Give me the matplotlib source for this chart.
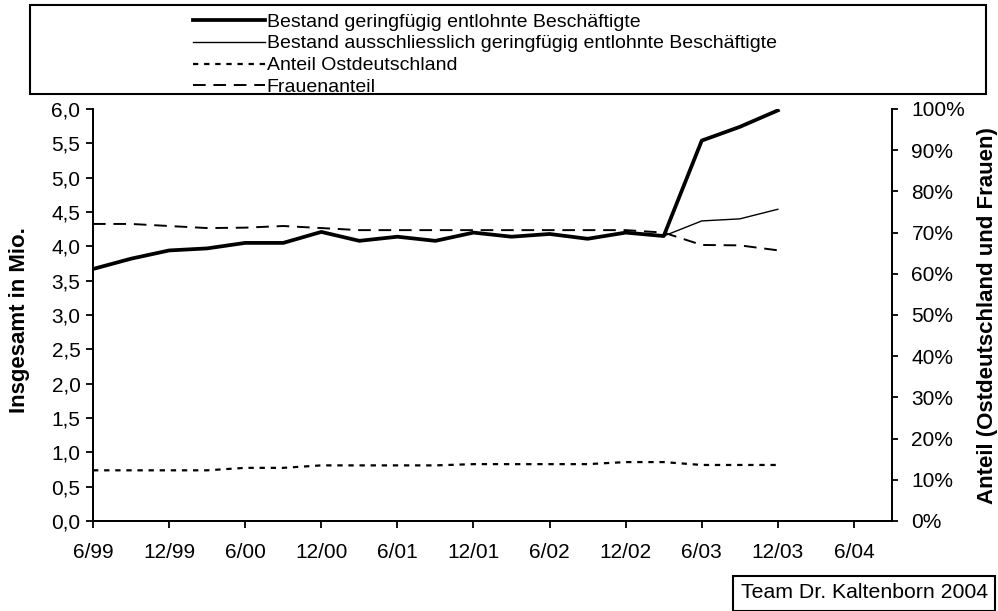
import matplotlib
matplotlib.use("Agg")
import matplotlib.pyplot as plt
from matplotlib.patches import Rectangle
from matplotlib.ticker import FuncFormatter

plt.rcParams['font.family'] = ['Liberation Sans', 'DejaVu Sans']

# quarterly values, 6/99 .. 12/03
bestand = [3.67, 3.82, 3.94, 3.97, 4.05, 4.05, 4.21, 4.08, 4.14, 4.08,
           4.20, 4.14, 4.18, 4.11, 4.20, 4.15, 5.54, 5.74, 5.98]
ausschl = [3.67, 3.82, 3.94, 3.97, 4.05, 4.05, 4.21, 4.08, 4.14, 4.08,
           4.20, 4.14, 4.18, 4.11, 4.20, 4.15, 4.37, 4.40, 4.54]
ost = [12.3, 12.3, 12.3, 12.3, 12.9, 12.9, 13.5, 13.5, 13.5, 13.5,
       13.8, 13.8, 13.8, 13.8, 14.3, 14.3, 13.6, 13.6, 13.6]
frauen = [72.1, 72.1, 71.6, 71.1, 71.2, 71.6, 71.1, 70.6, 70.6, 70.6,
          70.6, 70.6, 70.6, 70.6, 70.6, 70.0, 67.0, 66.9, 65.7]
tick_labels = ['6/99', '12/99', '6/00', '12/00', '6/01', '12/01',
               '6/02', '12/02', '6/03', '12/03', '6/04']
legend_labels = ['Bestand geringfügig entlohnte Beschäftigte',
                 'Bestand ausschliesslich geringfügig entlohnte Beschäftigte',
                 'Anteil Ostdeutschland',
                 'Frauenanteil']

x = list(range(len(bestand)))

fig = plt.figure(figsize=(9.98, 6.11), dpi=100)
ax = fig.add_axes([93 / 998, 1 - 521 / 611, 799 / 998, 412 / 611])
ax2 = ax.twinx()

l1, = ax.plot(x, bestand, color='black', lw=2.7)
l2, = ax.plot(x, ausschl, color='black', lw=1.0)
l3, = ax2.plot(x, ost, color='black', lw=1.6, linestyle=(0, (2.4, 2.6)))
l4, = ax2.plot(x, frauen, color='black', lw=1.4, linestyle=(0, (6.5, 4.0)))
ax.set_zorder(ax2.get_zorder() + 1)
ax.patch.set_visible(False)

ax.set_xlim(0, 21)
ax.set_ylim(0, 6)
ax2.set_ylim(0, 100)
ax.set_xticks(range(0, 21, 2))
ax.set_xticklabels(tick_labels)
ax.set_yticks([i * 0.5 for i in range(13)])
ax.yaxis.set_major_formatter(FuncFormatter(lambda v, p: ('%.1f' % v).replace('.', ',')))
ax2.set_yticks(range(0, 101, 10))
ax2.yaxis.set_major_formatter(FuncFormatter(lambda v, p: '%d%%' % v))

for a in (ax, ax2):
    a.spines['top'].set_visible(False)
    for s in a.spines.values():
        s.set_linewidth(1.3)
ax.tick_params(axis='x', direction='out', length=5, width=1.3, pad=11, labelsize=15)
ax.tick_params(axis='y', direction='out', length=5, width=1.3, pad=4, labelsize=15)
ax2.tick_params(axis='y', direction='out', length=4, width=1.3, pad=10, labelsize=15)

fig.text(20 / 998, 1 - 320 / 611, 'Insgesamt in Mio.', rotation=90, fontsize=16,
         fontweight='bold', ha='center', va='center')
fig.text(987 / 998, 1 - 316 / 611, 'Anteil (Ostdeutschland und Frauen)', rotation=90,
         fontsize=16, fontweight='bold', ha='center', va='center')

# legend box across the top
fig.patches.append(Rectangle((30 / 998, 1 - 94 / 611), 956 / 998, 89 / 611,
                             transform=fig.transFigure, fill=False, lw=1.5,
                             edgecolor='black'))
fig.legend([l1, l2, l3, l4], legend_labels, loc='upper left',
           bbox_to_anchor=(191 / 998, 1 - 11 / 611), frameon=False, fontsize=14,
           handlelength=3.7, handletextpad=0.1, labelspacing=0.22,
           borderaxespad=0, borderpad=0.1)

# source box, bottom right
fig.patches.append(Rectangle((733 / 998, 0), 262 / 998, 35 / 611,
                             transform=fig.transFigure, facecolor='white',
                             edgecolor='black', lw=1.5))
fig.text(741 / 998, 1 - 593 / 611, 'Team Dr. Kaltenborn 2004', fontsize=15.3,
         ha='left', va='center')

fig.savefig('out.png', dpi=100)
